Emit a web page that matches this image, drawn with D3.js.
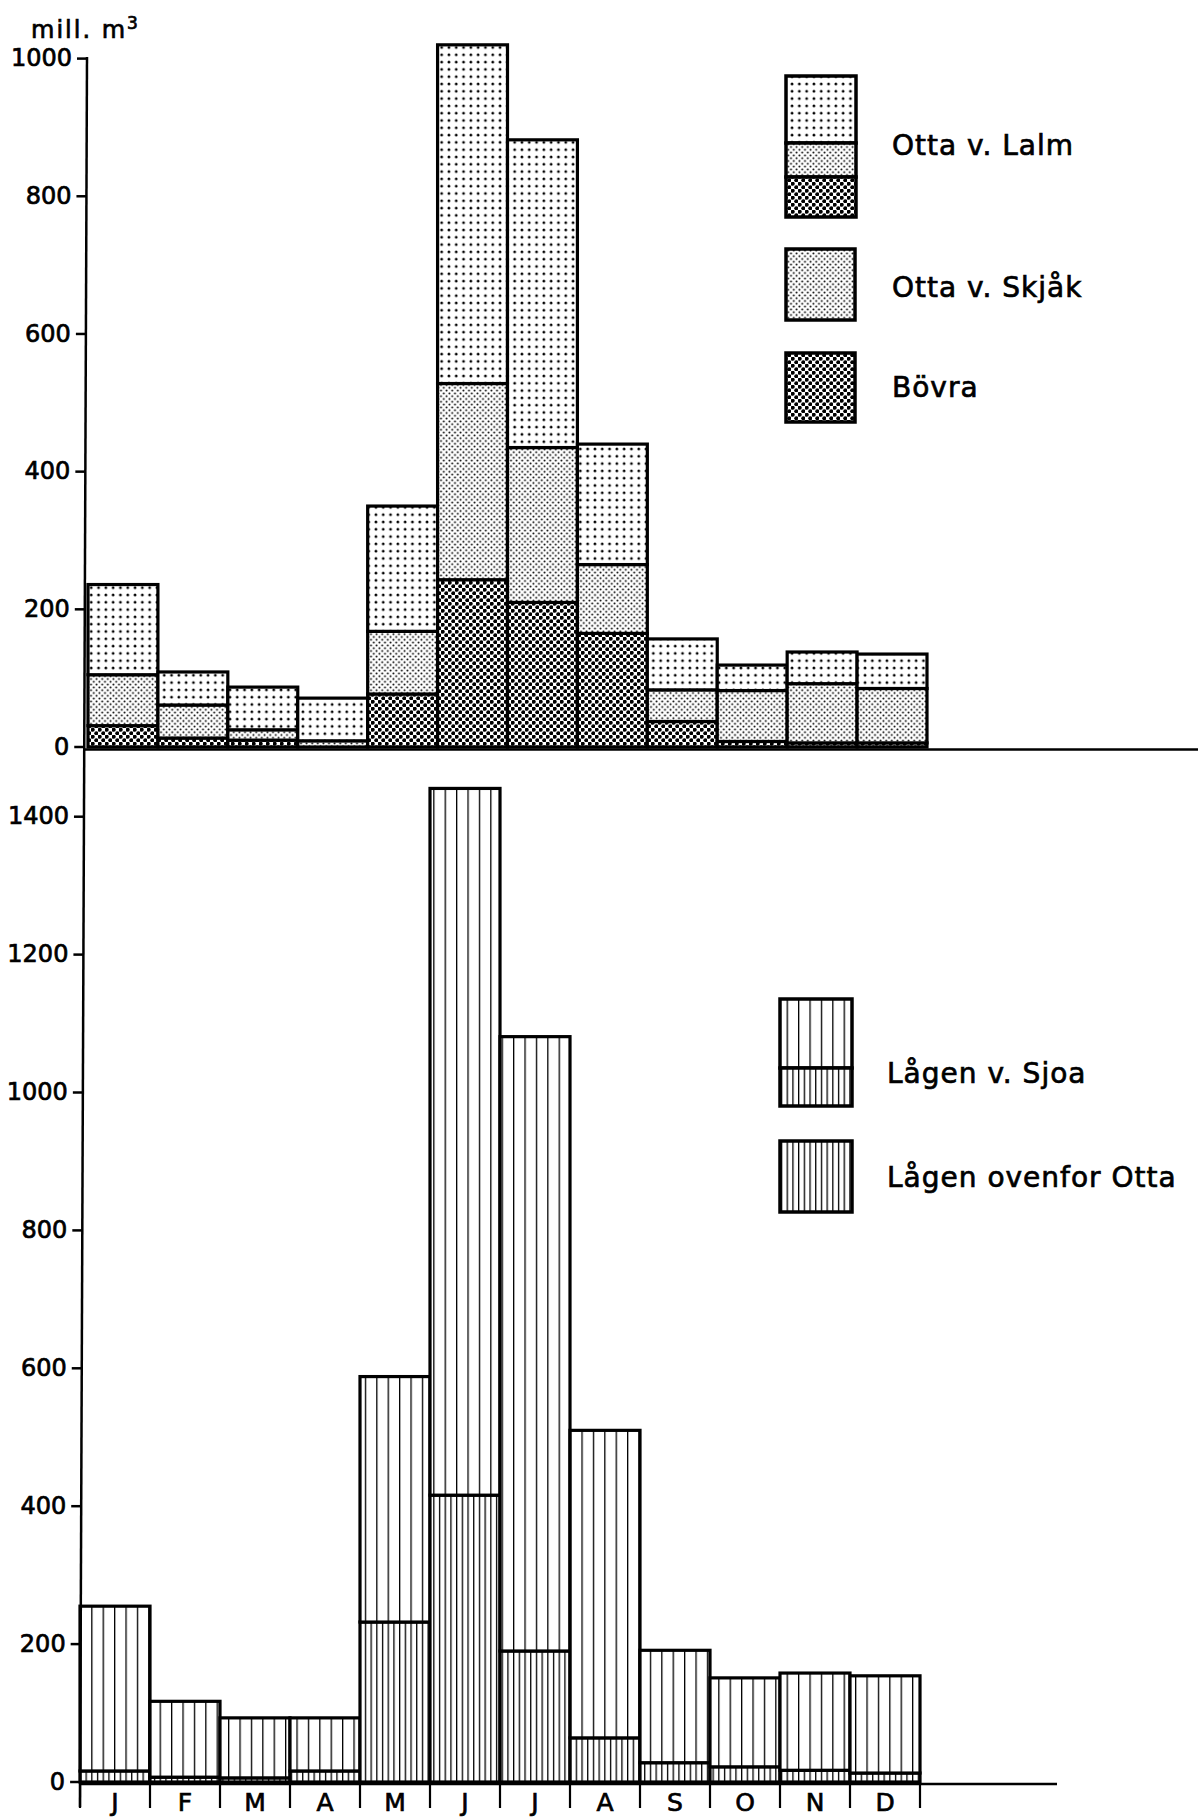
<!DOCTYPE html>
<html><head><meta charset="utf-8">
<script src="https://cdn.jsdelivr.net/npm/d3@7"></script>
<style>body{margin:0;background:#fff}svg{display:block}</style>
</head><body>
<script>
// ---- data ----
const months = ["J","F","M","A","M","J","J","A","S","O","N","D"];
const bovra = [31, 13, 10, 0, 77, 243, 210, 165, 37, 8, 6, 6];
const ottaSkjak = [74, 48, 15, 9, 91, 285, 225, 100, 46, 74, 86, 79];
const ottaLalm = [236, 109, 87, 71, 350, 1020, 882, 440, 157, 119, 138, 135];
const lagenSjoa = [255, 117, 93, 93, 588, 1441, 1081, 510, 191, 151, 158, 154];
const lagenOvenforOtta = [16, 7, 6, 16, 232, 416, 190, 64, 28, 22, 17, 13];
const topTicks = [0, 200, 400, 600, 800, 1000];
const bottomTicks = [0, 200, 400, 600, 800, 1000, 1200, 1400];
const unitLabel = "mill. m";
const legendTop = ["Otta v. Lalm", "Otta v. Skjåk", "Bövra"];
const legendBottom = ["Lågen v. Sjoa", "Lågen ovenfor Otta"];

const W = 1198, H = 1820;
const FONT = "DejaVu Sans";
const svg = d3.select("body").append("svg").attr("width", W).attr("height", H)
  .style("background", "#fff");
const defs = svg.append("defs");

function dotPattern(id, size, dots, r) {
  const p = defs.append("pattern").attr("id", id).attr("patternUnits", "userSpaceOnUse")
    .attr("width", size).attr("height", size);
  p.append("rect").attr("width", size).attr("height", size).attr("fill", "#fff");
  dots.forEach(([x, y]) => p.append("circle").attr("cx", x).attr("cy", y).attr("r", r).attr("fill", "#000"));
}
function linePattern(id, w) {
  const p = defs.append("pattern").attr("id", id).attr("patternUnits", "userSpaceOnUse")
    .attr("width", w).attr("height", 10);
  p.append("rect").attr("width", w).attr("height", 10).attr("fill", "#fff");
  p.append("rect").attr("x", 0).attr("width", 1.3).attr("height", 10).attr("fill", "#000");
}
dotPattern("pLalm", 7.3, [[3.65, 3.65]], 1.4);
dotPattern("pSkjak", 5.6, [[1.4, 1.4], [4.2, 4.2]], 1.0);
dotPattern("pBovra", 7, [[1.75, 1.75], [5.25, 5.25]], 2.0);
linePattern("pSjoa", 11.4);
linePattern("pOvenfor", 5.7);

const idx = d3.range(months.length);
const xTop = d3.scaleBand().domain(idx).range([88, 927]).padding(0);
const yTop = d3.scaleLinear().domain([0, 1000]).range([747, 58.6]);
const xBot = d3.scaleBand().domain(idx).range([80, 920]).padding(0);
const yBot = d3.scaleLinear().domain([0, 1400]).range([1782, 816.7]);

function textStyle(sel, size) {
  sel.attr("fill", "#000").attr("stroke", "#000").attr("stroke-width", 0.7)
    .style("font-family", FONT).style("font-size", size + "px");
}

// ---- bars ----
const topSegs = [];
idx.forEach(i => {
  const b = bovra[i], s = b + ottaSkjak[i], t = ottaLalm[i];
  topSegs.push({ i, y0: 0, y1: b, fill: "url(#pBovra)" });
  topSegs.push({ i, y0: b, y1: s, fill: "url(#pSkjak)" });
  topSegs.push({ i, y0: s, y1: t, fill: "url(#pLalm)" });
});
svg.append("g").selectAll("rect").data(topSegs.filter(d => d.y1 > d.y0)).join("rect")
  .attr("x", d => xTop(d.i)).attr("width", xTop.bandwidth())
  .attr("y", d => yTop(d.y1)).attr("height", d => yTop(d.y0) - yTop(d.y1))
  .attr("fill", d => d.fill).attr("stroke", "#000").attr("stroke-width", 3.2);

const botSegs = [];
idx.forEach(i => {
  botSegs.push({ i, y0: 0, y1: lagenOvenforOtta[i], fill: "url(#pOvenfor)" });
  botSegs.push({ i, y0: lagenOvenforOtta[i], y1: lagenSjoa[i], fill: "url(#pSjoa)" });
});
svg.append("g").selectAll("rect").data(botSegs).join("rect")
  .attr("x", d => xBot(d.i)).attr("width", xBot.bandwidth())
  .attr("y", d => yBot(d.y1)).attr("height", d => yBot(d.y0) - yBot(d.y1))
  .attr("fill", d => d.fill).attr("stroke", "#000").attr("stroke-width", 3.2);

// ---- axes ----
const lineX = y => 87 + (y - 57) * (80 - 87) / (1807 - 57);
svg.append("line").attr("x1", lineX(57)).attr("y1", 57).attr("x2", lineX(1807)).attr("y2", 1807)
  .attr("stroke", "#000").attr("stroke-width", 2.5);

function styleAxis(g, scale) {
  g.select(".domain").remove();
  g.selectAll(".tick").attr("transform", d => `translate(${lineX(scale(d))},${scale(d)})`);
  g.selectAll(".tick line").attr("stroke", "#000").attr("stroke-width", 2.5);
  textStyle(g.selectAll(".tick text"), 24);
}
const gyTop = svg.append("g").call(d3.axisLeft(yTop).tickValues(topTicks).tickSize(10).tickPadding(5).tickFormat(d3.format("d")));
styleAxis(gyTop, yTop);
const gyBot = svg.append("g").call(d3.axisLeft(yBot).tickValues(bottomTicks).tickSize(10).tickPadding(5).tickFormat(d3.format("d")));
styleAxis(gyBot, yBot);

// baselines
svg.append("line").attr("x1", lineX(749)).attr("x2", W).attr("y1", 749.5).attr("y2", 749.5)
  .attr("stroke", "#000").attr("stroke-width", 2.5);
svg.append("line").attr("x1", lineX(1784)).attr("x2", 1057).attr("y1", 1784).attr("y2", 1784)
  .attr("stroke", "#000").attr("stroke-width", 2.5);

// month ticks and labels
const edges = idx.map(i => xBot(i)).concat([xBot(idx[idx.length - 1]) + xBot.bandwidth()]);
svg.append("g").selectAll("line").data(edges).join("line")
  .attr("x1", d => d).attr("x2", d => d).attr("y1", 1784).attr("y2", 1808)
  .attr("stroke", "#000").attr("stroke-width", 2.2);
const gx = svg.append("g").attr("transform", "translate(0,1784)")
  .call(d3.axisBottom(xBot).tickSize(0).tickPadding(0).tickFormat(i => months[i]));
gx.select(".domain").remove();
gx.selectAll(".tick text").attr("y", 27).attr("dy", null);
textStyle(gx.selectAll(".tick text"), 25);

// unit label
const ut = svg.append("text").attr("x", 31).attr("y", 38).style("letter-spacing", "2px").text(unitLabel);
textStyle(ut, 24);
ut.append("tspan").attr("dy", -9).style("font-size", "17px").text("3");

// ---- legends ----
const lg = svg.append("g");
function box(x0, x1, y0, y1, fill) {
  lg.append("rect").attr("x", x0).attr("y", y0).attr("width", x1 - x0).attr("height", y1 - y0)
    .attr("fill", fill).attr("stroke", "#000").attr("stroke-width", 3.5);
}
box(786, 856, 76, 143, "url(#pLalm)");
box(786, 856, 143, 177, "url(#pSkjak)");
box(786, 856, 177, 217, "url(#pBovra)");
box(786, 855, 249, 320, "url(#pSkjak)");
box(786, 855, 353, 422, "url(#pBovra)");
box(780, 852, 999, 1068, "url(#pSjoa)");
box(780, 852, 1068, 1106, "url(#pOvenfor)");
box(780, 852, 1141, 1212, "url(#pOvenfor)");

const legTexts = [
  { t: legendTop[0], x: 892, y: 155 },
  { t: legendTop[1], x: 892, y: 297 },
  { t: legendTop[2], x: 892, y: 397 },
  { t: legendBottom[0], x: 887, y: 1083 },
  { t: legendBottom[1], x: 887, y: 1187 }
];
const lt = lg.selectAll("text.leg").data(legTexts).join("text").attr("class", "leg")
  .attr("x", d => d.x).attr("y", d => d.y).style("letter-spacing", "1px")
  .text(d => d.t);
textStyle(lt, 28);
</script>
</body></html>
